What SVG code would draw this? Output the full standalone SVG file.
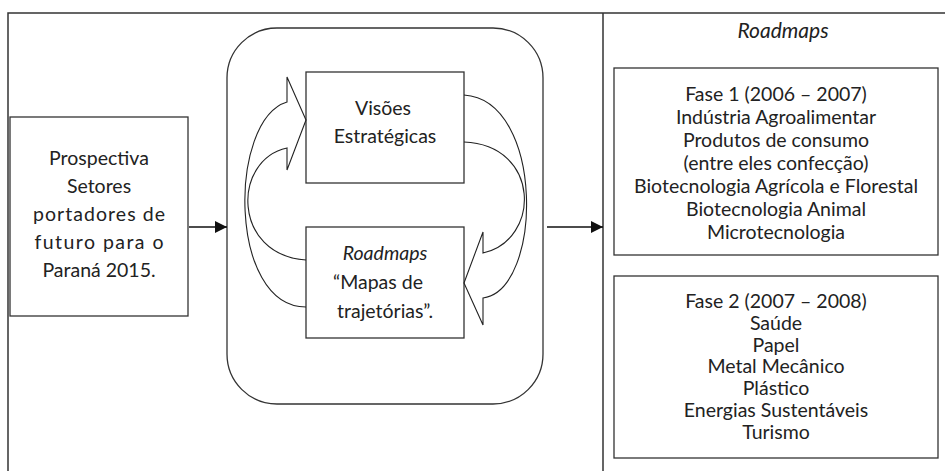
<svg xmlns="http://www.w3.org/2000/svg" width="945" height="471" viewBox="0 0 945 471">
<defs>
<style>
.t{font-family:Lato,"Open Sans","DejaVu Sans",sans-serif;font-size:19.5px;fill:#222;text-anchor:middle}
.s{font-size:19.5px}
.i{font-style:italic}
.box{fill:#fff;stroke:#333;stroke-width:1.3}
.frame{fill:none;stroke:#333;stroke-width:1.5}
.cv{fill:none;stroke:#222;stroke-width:1.1}
.ln{fill:none;stroke:#111;stroke-width:1.3}
</style>
<marker id="ah" viewBox="0 0 12 12" refX="12" refY="6" markerWidth="12" markerHeight="12" markerUnits="userSpaceOnUse" orient="auto">
<path d="M0,0 L12,6 L0,12 Z" fill="#111"/>
</marker>
</defs>
<rect width="945" height="471" fill="#fff"/>
<g id="frame">
<path class="frame" d="M8,471 V13 H945 M603,13 V471"/>
</g>
<g id="prospectiva">
<rect class="box" x="10" y="117" width="178" height="199"/>
<text class="t" x="99" y="165">Prospectiva</text>
<text class="t" x="99" y="193">Setores</text>
<text class="t" x="99" y="221" textLength="132" lengthAdjust="spacing">portadores de</text>
<text class="t" x="99" y="249" textLength="129" lengthAdjust="spacing">futuro para o</text>
<text class="t" x="99" y="277">Paraná 2015.</text>
</g>
<g id="ciclo">
<rect class="box" x="227" y="28" width="316" height="376" rx="50" ry="50"/>
</g>
<g id="visoes">
<rect class="box" x="306" y="72" width="158" height="111"/>
<text class="t" x="383" y="115">Visões</text>
<text class="t" x="385" y="143">Estratégicas</text>
</g>
<g id="roadmaps-mapas">
<rect class="box" x="306" y="227" width="158" height="111"/>
<text class="t i" x="385" y="260">Roadmaps</text>
<text class="t" x="378" y="289">“Mapas de</text>
<text class="t" x="385" y="318">trajetórias”.</text>
</g>
<g id="roadmaps">
<text class="t i" x="783" y="38" style="font-size:21px">Roadmaps</text>
</g>
<g id="fase1">
<rect class="box" x="614" y="68" width="324" height="187"/>
<text class="t s" x="776" y="101">Fase 1 (2006 – 2007)</text>
<text class="t s" x="776" y="124">Indústria Agroalimentar</text>
<text class="t s" x="776" y="147">Produtos de consumo</text>
<text class="t s" x="776" y="170">(entre eles confecção)</text>
<text class="t s" x="776" y="193">Biotecnologia Agrícola e Florestal</text>
<text class="t s" x="776" y="216">Biotecnologia Animal</text>
<text class="t s" x="776" y="239">Microtecnologia</text>
</g>
<g id="fase2">
<rect class="box" x="614" y="276" width="324" height="182"/>
<text class="t s" x="776" y="308">Fase 2 (2007 – 2008)</text>
<text class="t s" x="776" y="330">Saúde</text>
<text class="t s" x="776" y="352">Papel</text>
<text class="t s" x="776" y="373">Metal Mecânico</text>
<text class="t s" x="776" y="395">Plástico</text>
<text class="t s" x="776" y="417">Energias Sustentáveis</text>
<text class="t s" x="776" y="439">Turismo</text>
</g>
<g id="connectors">
<line class="ln" x1="189" y1="227" x2="227" y2="227" marker-end="url(#ah)"/>
<line class="ln" x1="547" y1="227" x2="603" y2="227" marker-end="url(#ah)"/>
<path class="cv" d="M306,307 C228,307 228,120 287,102 L287,77 L306,120 L287,170 L287,148 C232,160 232,255 306,260"/>
<path class="cv" d="M464,142 C541,145 541,240 483,253 L483,232 L464,283 L483,325 L483,298 C543,290 545,100 464,95"/>
</g>
</svg>
